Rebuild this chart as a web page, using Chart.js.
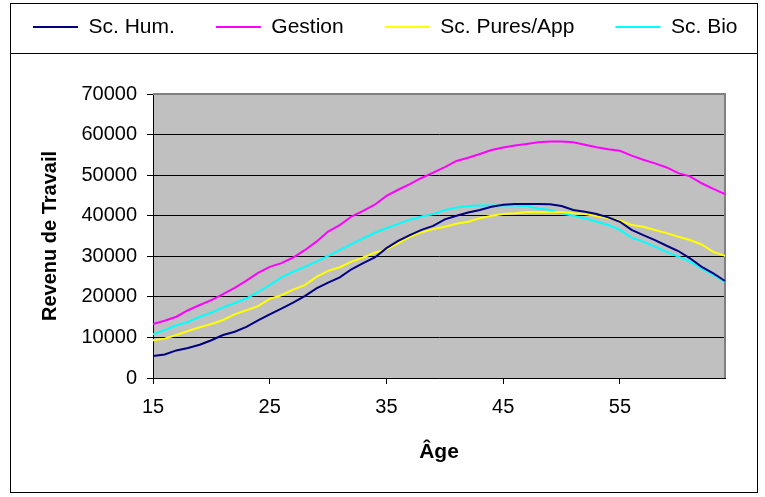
<!DOCTYPE html>
<html>
<head>
<meta charset="utf-8">
<script src="https://cdn.jsdelivr.net/npm/chart.js@4.4.0/dist/chart.umd.min.js"></script>
<style>html,body{margin:0;padding:0;background:#fff;}canvas{display:block;}</style>
</head>
<body>
<canvas id="c" width="765" height="497"></canvas>
<script>
// ---- data ----
const ages = [15,16,17,18,19,20,21,22,23,24,25,26,27,28,29,30,31,32,33,34,35,36,37,38,39,
              40,41,42,43,44,45,46,47,48,49,50,51,52,53,54,55,56,57,58,59,60,61,62,63,64];
const seriesNames = ['Sc. Hum.', 'Gestion', 'Sc. Pures/App', 'Sc. Bio'];
const scHum = [5400,5800,6800,7400,8200,9300,10600,11400,12600,14200,15700,17100,18600,20200,22100,
               23500,24800,26800,28300,29700,32000,33800,35200,36500,37500,39100,40000,40800,41400,42200,
               42700,42900,42900,42900,42800,42400,41400,41000,40400,39600,38500,36500,35200,34000,32600,
               31300,29500,27400,25800,23900];
const gestion = [13300,14100,15100,16700,18000,19200,20700,22200,24000,25900,27400,28300,29700,31500,33600,
                 36100,37700,39800,41200,42700,44900,46400,47800,49300,50600,52000,53500,54300,55200,56200,
                 56800,57300,57700,58100,58300,58300,58100,57500,56900,56400,56000,54800,53800,52900,51900,
                 50500,49700,48000,46600,45300];
const scPures = [9300,9700,10600,11600,12500,13300,14300,15700,16700,17700,19500,20400,21800,22900,24900,
                 26400,27300,28700,29700,30900,31700,33200,34800,35900,36700,37300,38000,38500,39400,40000,
                 40400,40600,40900,40900,40900,40900,40600,40400,39900,39400,38800,37700,37300,36500,35700,
                 34800,34000,32900,31100,30100];
const scBio = [10800,11800,13000,13800,15100,16100,17400,18500,19600,21200,22900,24800,26200,27400,28700,
               30100,31500,33000,34400,35800,36900,38000,39000,39800,40400,41400,42000,42400,42500,42500,
               42500,42500,42400,41800,41400,40600,40000,39400,38500,37700,36500,34600,33600,32400,31100,
               29900,28700,27000,25400,23700];
const xTicks = [15,25,35,45,55];
const yTicks = [0,10000,20000,30000,40000,50000,60000,70000];
const yTickLabels = ['0','10000','20000','30000','40000','50000','60000','70000'];
const xTitle = 'Âge';
const yTitle = 'Revenu de Travail';

// ---- styling ----
const colors = ['#000080', '#FF00FF', '#FFFF00', '#00FFFF'];
const allSeries = [scHum, gestion, scPures, scBio];

Chart.defaults.font.family = "'Liberation Sans', Arial, Helvetica, sans-serif";
Chart.defaults.color = '#000';

const PAD_TOP = -24.5;
const PLOT_TOP = 94;
const PLOT_RIGHT_GAP = 40;

const frame = {
  id: 'frame',
  beforeInit(chart) {
    const lg = chart.legend;
    if (lg && !lg._patched) {
      const orig = lg.fit;
      lg.fit = function () { orig.call(this); this.height = PLOT_TOP - PAD_TOP; };
      lg._patched = true;
    }
  },
  beforeDraw(chart) {
    const {ctx, chartArea: a} = chart;
    ctx.save();
    ctx.fillStyle = '#fff';
    ctx.fillRect(0, 0, chart.width, chart.height);
    ctx.strokeStyle = '#000';
    ctx.lineWidth = 1;
    ctx.strokeRect(10.5, 3.5, 747, 489);
    ctx.strokeRect(10.5, 3.5, 747, 50);
    ctx.fillStyle = '#C0C0C0';
    ctx.fillRect(a.left, a.top, a.right - a.left, a.bottom - a.top);
    ctx.restore();
  },
  beforeDatasetsDraw(chart) {
    const {ctx, chartArea: a} = chart;
    ctx.save();
    ctx.strokeStyle = '#808080';
    ctx.lineWidth = 2;
    ctx.beginPath();
    ctx.moveTo(a.left, a.top);
    ctx.lineTo(a.right, a.top);
    ctx.lineTo(a.right, a.bottom);
    ctx.stroke();
    ctx.restore();
  }
};

new Chart(document.getElementById('c'), {
  type: 'line',
  data: {
    datasets: seriesNames.map((name, k) => ({
      label: name,
      data: ages.map((a, i) => ({x: a, y: allSeries[k][i]})),
      borderColor: colors[k],
      backgroundColor: colors[k],
      borderWidth: 2,
      pointRadius: 0,
      pointHoverRadius: 0,
      tension: 0,
      fill: false,
      clip: false
    }))
  },
  options: {
    responsive: false,
    animation: false,
    devicePixelRatio: 1,
    layout: {padding: {top: PAD_TOP, left: -8, right: -40, bottom: 0}},
    plugins: {
      legend: {
        position: 'top',
        align: 'start',
        labels: {
          usePointStyle: true,
          pointStyle: 'line',
          pointStyleWidth: 45,
          padding: 41,
          color: '#000',
          font: {size: 21}
        }
      },
      tooltip: {enabled: false}
    },
    scales: {
      x: {
        type: 'linear',
        min: 15,
        max: 64,
        afterBuildTicks: s => { s.ticks = xTicks.map(v => ({value: v})); },
        afterFit: s => { s.height = 119; s.paddingRight = PLOT_RIGHT_GAP; },
        grid: {drawOnChartArea: false, drawTicks: true, tickLength: 6, tickColor: '#000', color: '#000'},
        border: {color: '#000', width: 1},
        ticks: {font: {size: 20}, color: '#000', padding: 11, maxRotation: 0, autoSkip: false,
                callback: v => String(v)},
        title: {display: true, text: xTitle, color: '#000',
                font: {size: 21, weight: 'bold'}, padding: {top: 0, bottom: 32}}
      },
      y: {
        min: 0,
        max: 70000,
        afterBuildTicks: s => { s.ticks = yTicks.map(v => ({value: v})); },
        afterFit: s => { s.width = 161; },
        grid: {color: '#000', lineWidth: 1, tickLength: 6, tickColor: '#000'},
        border: {color: '#000', width: 1},
        ticks: {font: {size: 20}, color: '#000', padding: 10,
                callback: (v, i) => yTickLabels[i]},
        title: {display: true, text: yTitle, color: '#000',
                font: {size: 20, weight: 'bold'}, padding: {top: 46, bottom: 0}}
      }
    }
  },
  plugins: [frame]
});
</script>
</body>
</html>
